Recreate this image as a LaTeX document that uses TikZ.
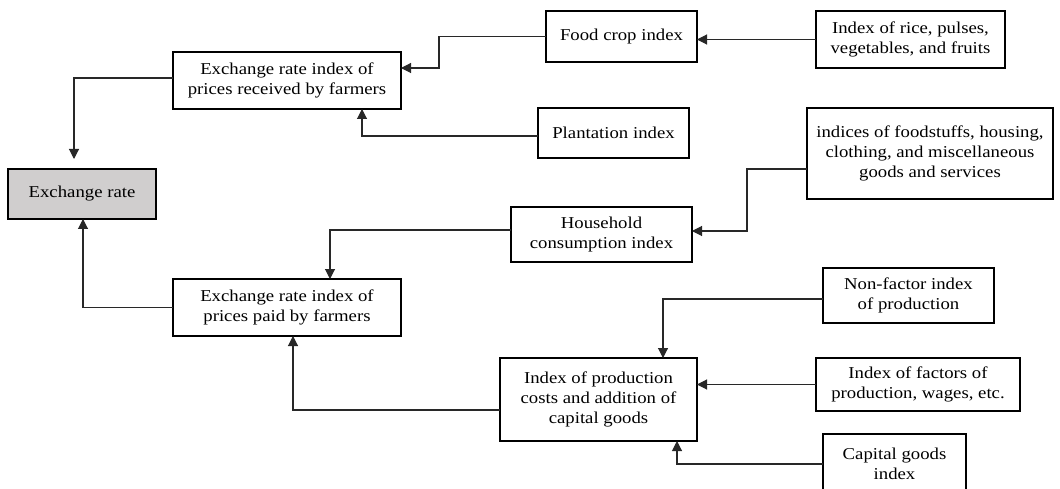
\documentclass[tikz,border=0pt]{standalone}
\usepackage{fontspec}
\setmainfont{Liberation Serif}[FakeStretch=1.13]
\usetikzlibrary{arrows.meta}
\definecolor{erfill}{RGB}{208,206,206}
\definecolor{linecol}{RGB}{40,40,40}
\begin{document}
\begin{tikzpicture}[x=1pt,y=-1pt,
  box/.style={draw=black,line width=1.5pt,fill=white,inner sep=0pt,outer sep=0pt,
    align=center,font=\fontsize{16.6pt}{20pt}\selectfont},
  conn/.style={draw=linecol,line width=1.1pt,-{Triangle[length=10pt,width=10pt]}}]
\useasboundingbox (0,0) rectangle (1060,489);
% nodes
\node[box,fill=erfill,minimum width=148pt,minimum height=50pt] (er) at (82,194) {Exchange rate};
\node[box,minimum width=228pt,minimum height=57pt] (recv) at (287,80.5) {Exchange rate index of\\prices received by farmers};
\node[box,minimum width=151pt,minimum height=51pt] (food) at (621.5,36.5) {Food crop index};
\node[box,minimum width=151pt,minimum height=50pt] (plant) at (613.5,133) {Plantation index};
\node[box,minimum width=189pt,minimum height=57pt] (rice) at (910.5,39.5) {Index of rice, pulses,\\vegetables, and fruits};
\node[box,minimum width=246pt,minimum height=91pt] (ind) at (930,153.5) {indices of foodstuffs, housing,\\clothing, and miscellaneous\\goods and services};
\node[box,minimum width=181pt,minimum height=55pt] (hh) at (601.5,234.5) {Household\\consumption index};
\node[box,minimum width=228pt,minimum height=57pt] (paid) at (287,307.5) {Exchange rate index of\\prices paid by farmers};
\node[box,minimum width=197pt,minimum height=83pt] (prod) at (598.5,399.5) {Index of production\\costs and addition of\\capital goods};
\node[box,minimum width=171pt,minimum height=55pt] (nf) at (908.5,295.5) {Non-factor index\\of production};
\node[box,minimum width=204pt,minimum height=53pt] (fac) at (918,384.5) {Index of factors of\\production, wages, etc.};
\node[box,minimum width=143pt,minimum height=60pt] (cap) at (894.5,464) {Capital goods\\index};
% connectors
\draw[conn,shorten >=10pt] ([yshift=2.5pt]recv.west) -| ([xshift=-8pt]er.north);
\draw[conn] (food.west) -- ++(-107,0) |- ([yshift=12.5pt]recv.east);
\draw[conn] ([yshift=-3pt]plant.west) -| ([xshift=75pt]recv.south);
\draw[conn] (rice.west) -- (food.east |- rice.west);
\draw[conn] ([yshift=-15.5pt]ind.west) -- ++(-60,0) |- ([yshift=3.5pt]hh.east);
\draw[conn] ([yshift=4.5pt]hh.west) -| ([xshift=43pt]paid.north);
\draw[conn] (paid.west) -| ([xshift=1pt]er.south);
\draw[conn] ([yshift=-10.5pt]prod.west) -| ([xshift=6pt]paid.south);
\draw[conn] ([yshift=-3.5pt]nf.west) -| ([xshift=64.5pt]prod.north);
\draw[conn] (fac.west) -- (prod.east |- fac.west);
\draw[conn] (cap.west) -| ([xshift=78.5pt]prod.south);
\end{tikzpicture}
\end{document}
